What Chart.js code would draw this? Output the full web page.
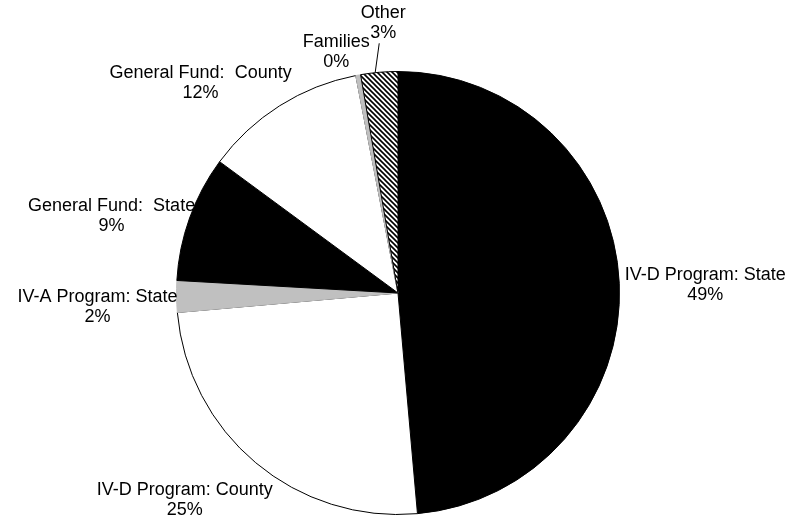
<!DOCTYPE html>
<html>
<head>
<meta charset="utf-8">
<script src="https://cdn.jsdelivr.net/npm/chart.js@4.4.1/dist/chart.umd.min.js"></script>
<style>
  html, body { margin: 0; padding: 0; background: #fff; }
  #wrap { width: 801px; height: 519px; position: relative; }
</style>
</head>
<body>
<div id="wrap"><canvas id="chart-funding"></canvas></div>
<script>
const categories = [
    "IV-D Program: State",
    "IV-D Program: County",
    "IV-A Program: State",
    "General Fund:  State",
    "General Fund:  County",
    "Families",
    "Other",
];
const shares = [48.6, 25.0, 2.3, 9.2, 11.85, 0.35, 2.7];

// label block centre, relative to the outer point of each slice's middle
const labelOffsets = [
    [86, 1],
    [-71, 36],
    [-79, 10],
    [-78, -3],
    [-79, -24],
    [-22, -24],
    [4, -50],
];
const leaderSlice = 6;

function hatchPattern() {
    const s = 5;
    const c = document.createElement("canvas");
    c.width = s;
    c.height = s;
    const x = c.getContext("2d");
    x.fillStyle = "#ffffff";
    x.fillRect(0, 0, s, s);
    x.strokeStyle = "#000000";
    x.lineWidth = 1.6;
    x.beginPath();
    x.moveTo(-1, -1); x.lineTo(s + 1, s + 1);
    x.moveTo(s - 1, -1); x.lineTo(s + 1, 1);
    x.moveTo(-1, s - 1); x.lineTo(1, s + 1);
    x.stroke();
    return x.createPattern(c, "repeat");
}

const sliceLabels = {
    id: "sliceLabels",
    afterDraw(chart) {
        const ctx = chart.ctx;
        const meta = chart.getDatasetMeta(0);
        const total = shares.reduce((a, b) => a + b, 0);
        ctx.save();
        ctx.font = '18px "Liberation Sans", Arial, sans-serif';
        ctx.fillStyle = "#000";
        ctx.textAlign = "center";
        ctx.textBaseline = "alphabetic";
        meta.data.forEach((arc, i) => {
            const p = arc.getProps(["x", "y", "startAngle", "endAngle", "outerRadius"], true);
            const mid = (p.startAngle + p.endAngle) / 2;
            const ax = p.x + Math.cos(mid) * p.outerRadius;
            const ay = p.y + Math.sin(mid) * p.outerRadius;
            const cx = ax + labelOffsets[i][0];
            const cy = ay + labelOffsets[i][1];
            const pct = Math.round(shares[i] / total * 100) + "%";
            ctx.fillText(categories[i], cx, cy - 4);
            ctx.fillText(pct, cx, cy + 16);
            if (i === leaderSlice) {
                ctx.strokeStyle = "#000";
                ctx.lineWidth = 1;
                ctx.beginPath();
                ctx.moveTo(cx - 4, cy + 21);
                ctx.lineTo(ax - 4, ay);
                ctx.stroke();
            }
        });
        ctx.restore();
    },
};

const funding = document.getElementById("chart-funding");

new Chart(funding, {
    type: "pie",
    data: {
        labels: categories,
        datasets: [
            {
                data: shares,
                backgroundColor: [
                    "#000000",
                    "#ffffff",
                    "#c0c0c0",
                    "#000000",
                    "#ffffff",
                    "#c0c0c0",
                    hatchPattern(),
                ],
                borderColor: [
                    "#000000",
                    "#000000",
                    "#c0c0c0",
                    "#000000",
                    "#000000",
                    "#c0c0c0",
                    "#000000",
                ],
                borderWidth: 1,
                hoverOffset: 0,
            },
        ],
    },
    options: {
        responsive: true,
        maintainAspectRatio: false,
        animation: false,
        events: [],
        layout: {
            padding: { top: 71, bottom: 4, left: 0, right: 5 },
        },
        plugins: {
            legend: { display: false },
            tooltip: { enabled: false },
        },
    },
    plugins: [sliceLabels],
});
</script>
</body>
</html>
